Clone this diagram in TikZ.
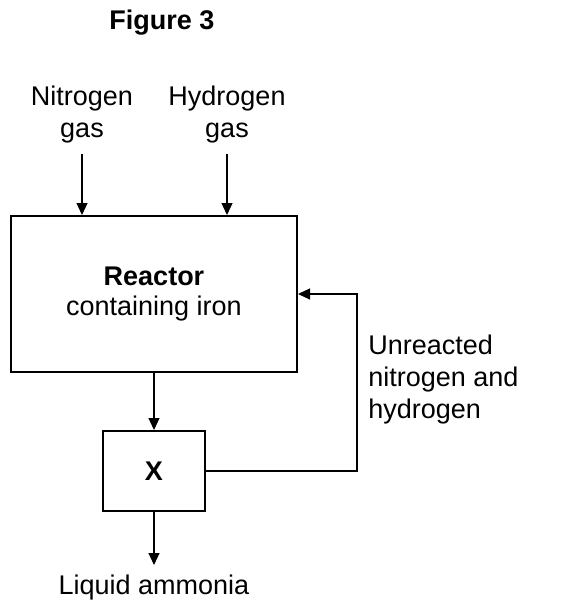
\documentclass[tikz,border=0pt]{standalone}
\usepackage{fontspec}
\setmainfont{Liberation Sans}
\usetikzlibrary{arrows.meta, positioning}

\begin{document}
\begin{tikzpicture}[
  x=0.5pt, y=-0.5pt,
  font=\fontsize{13.5}{16}\selectfont,
  unit/.style={rectangle, draw, line width=1pt, align=center},
  label/.style={align=center, inner sep=5pt},
  flow/.style={-{Triangle[length=6pt, width=5.5pt]}, line width=0.6pt}
]
\useasboundingbox (0,0) rectangle (564,605);

\node (title) at (162,23) {\bfseries Figure 3};

\node[unit, minimum width=143pt, minimum height=78pt] (reactor) at (154,294)
  {\textbf{Reactor}\\[-1pt]containing iron};
\node[unit, minimum width=51pt, minimum height=40pt] (sep) at (154,471) {\textbf{X}};

\node[label, anchor=south] (nitro) at (82,154) {Nitrogen\\gas};
\node[label, anchor=south] (hydro) at (227,154) {Hydrogen\\gas};
\node[label, anchor=north] (ammonia) at (154,565) {Liquid ammonia};
\node[align=left, anchor=west, inner sep=0pt] (recycle) at (368,380)
  {Unreacted\\nitrogen and\\hydrogen};

\coordinate (bend) at (357,294);

\draw[flow] (nitro.south) -- (nitro.south |- reactor.north);
\draw[flow] (hydro.south) -- (hydro.south |- reactor.north);
\draw[flow] (reactor.south) -- (sep.north);
\draw[flow] (sep.south) -- (ammonia.north);
\draw[flow] (sep.east) -| (bend) -- (reactor.east);
\end{tikzpicture}
\end{document}
